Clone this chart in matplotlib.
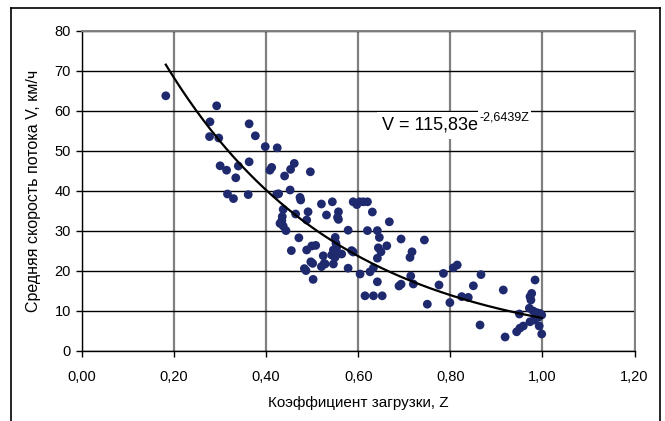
import numpy as np
import matplotlib
matplotlib.use('Agg')
import matplotlib.pyplot as plt
from matplotlib.lines import Line2D

plt.rcParams['font.family'] = ['Liberation Sans', 'DejaVu Sans']

# load factor Z and mean flow speed V
z = [0.182, 0.2925, 0.278, 0.277, 0.297, 0.363, 0.300, 0.314, 0.3395, 0.334,
     0.363, 0.316, 0.329, 0.3765, 0.398, 0.424, 0.361, 0.408, 0.412, 0.440,
     0.453, 0.461, 0.496, 0.452, 0.423, 0.427, 0.4735, 0.475, 0.52, 0.437,
     0.491, 0.531, 0.435, 0.464, 0.488, 0.430, 0.434, 0.437, 0.443, 0.471,
     0.4547, 0.488, 0.499, 0.5076, 0.524, 0.497, 0.501, 0.526, 0.483, 0.4865,
     0.502, 0.5437, 0.589, 0.597, 0.603, 0.611, 0.62, 0.557, 0.555, 0.557,
     0.578, 0.62, 0.550, 0.5517, 0.553, 0.546, 0.557, 0.5423, 0.5495, 0.528,
     0.52, 0.546, 0.578, 0.589, 0.6306, 0.6675, 0.6415, 0.6458, 0.693, 0.7436,
     0.662, 0.6436, 0.6494, 0.6415, 0.7168, 0.7124, 0.564, 0.5856, 0.604, 0.6255,
     0.633, 0.6415, 0.6885, 0.693, 0.714, 0.7196, 0.6147, 0.633, 0.652, 0.75,
     0.7754, 0.785, 0.8065, 0.815, 0.799, 0.8247, 0.839, 0.85, 0.8666, 0.915,
     0.984, 0.9767, 0.973, 0.975, 0.9716, 0.980, 0.9876, 0.9948, 0.9985, 0.95,
     0.991, 0.982, 0.973, 0.8645, 0.993, 0.9985, 0.944, 0.951, 0.9585, 0.919]
v = [63.8, 61.3, 57.3, 53.6, 53.25, 56.8, 46.3, 45.2, 46.25, 43.3,
     47.3, 39.25, 38.1, 53.8, 51.1, 50.8, 39.1, 45.2, 45.9, 43.75,
     45.4, 46.9, 44.8, 40.25, 39.2, 39.3, 38.4, 37.75, 36.75, 35.4,
     34.8, 34.0, 33.6, 34.25, 32.75, 31.9, 32.6, 31.25, 30.1, 28.3,
     25.1, 25.25, 26.25, 26.4, 23.8, 22.3, 21.9, 21.9, 20.6, 20.1,
     17.9, 37.3, 37.3, 36.6, 37.3, 37.3, 37.3, 34.8, 33.4, 32.9,
     30.2, 30.1, 28.4, 26.9, 25.9, 25.25, 24.4, 24.0, 23.4, 21.75,
     21.1, 21.75, 20.7, 24.75, 34.75, 32.3, 30.1, 28.4, 28.0, 27.75,
     26.3, 25.8, 24.8, 23.2, 24.8, 23.4, 24.25, 25.1, 19.25, 19.8,
     20.8, 17.3, 16.25, 16.7, 18.75, 16.75, 13.8, 13.8, 13.8, 11.7,
     16.5, 19.4, 20.8, 21.5, 12.1, 13.6, 13.4, 16.3, 19.1, 15.25,
     17.75, 14.4, 13.6, 12.75, 10.7, 10.0, 9.6, 9.4, 9.0, 9.25,
     8.4, 7.75, 7.3, 6.5, 6.25, 4.25, 4.8, 5.7, 6.25, 3.5]

# exponential trend shown on the chart
trend_a = 115.83
trend_b = -2.6439
trend_label = 'V = 115,83e'
trend_power = '-2,6439Z'

x_ticks = [0.0, 0.2, 0.4, 0.6, 0.8, 1.0, 1.2]
x_ticklabels = ['0,00', '0,20', '0,40', '0,60', '0,80', '1,00', '1,20']
y_ticks = [0, 10, 20, 30, 40, 50, 60, 70, 80]

fig = plt.figure(figsize=(6.65, 4.21), dpi=100)
ax = fig.add_axes([82 / 665, 70 / 421, 552.5 / 665, 320 / 421])

ax.scatter(z, v, s=40, color='#1F2A6E', edgecolors='none', zorder=3)

zz = np.linspace(min(z), max(z), 200)
ax.plot(zz, trend_a * np.exp(trend_b * zz), color='black', lw=1.6, zorder=4)

ax.set_xlim(0, 1.2)
ax.set_ylim(0, 80)
ax.set_xticks(x_ticks)
ax.set_xticklabels(x_ticklabels)
ax.set_yticks(y_ticks)

ax.grid(axis='x', color='#808080', lw=1.6, zorder=1)
ax.grid(axis='y', color='black', lw=1.0, zorder=1)
ax.set_axisbelow(True)

for s in ['left', 'bottom']:
    ax.spines[s].set_color('black')
    ax.spines[s].set_linewidth(1.0)
for s in ['top', 'right']:
    ax.spines[s].set_color('#808080')
    ax.spines[s].set_linewidth(1.4)

ax.tick_params(direction='out', length=4, width=1, labelsize=10.5, colors='black')
ax.tick_params(axis='x', pad=10)
ax.tick_params(axis='y', pad=4)

ax.set_xlabel('Коэффициент загрузки, Z', fontsize=11, labelpad=8)
ax.set_ylabel('Средняя скорость потока V, км/ч', fontsize=11.5, labelpad=10)

# equation of the trend, exponent drawn as a separate smaller text
t1 = ax.text(0.652, 56.4, trend_label, fontsize=13, va='center', ha='left', zorder=5,
             bbox=dict(facecolor='white', edgecolor='none', pad=3.5))
ax.annotate(trend_power, xy=(1, 0.62), xycoords=t1, xytext=(1, 0),
            textcoords='offset points', va='bottom', ha='left',
            fontsize=9, zorder=6,
            bbox=dict(facecolor='white', edgecolor='none', pad=1))

# outer frame of the chart
fig.add_artist(Line2D([11 / 665, 11 / 665], [0, 1 - 8 / 421], color='black', lw=1.2))
fig.add_artist(Line2D([11 / 665, 660 / 665], [1 - 8 / 421, 1 - 8 / 421], color='black', lw=1.2))
fig.add_artist(Line2D([660 / 665, 660 / 665], [0, 1 - 8 / 421], color='black', lw=1.2))

fig.savefig('out.png', dpi=100)
